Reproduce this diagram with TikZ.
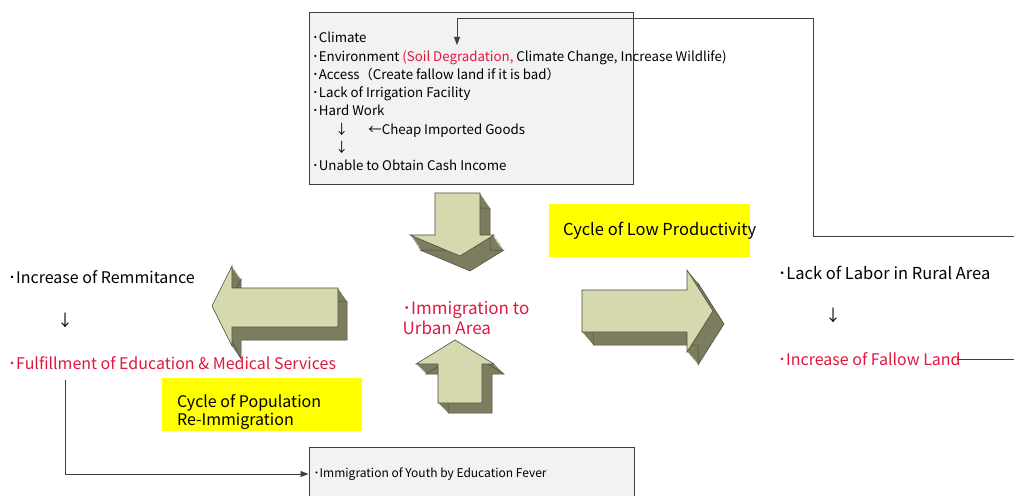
\documentclass[tikz,border=0pt]{standalone}
\usepackage{fontspec}
\setmainfont{Noto Sans CJK JP}
\usepackage{xcolor}
\definecolor{ink}{HTML}{E3173E}
\definecolor{marker}{HTML}{FFFF00}
\definecolor{boxfill}{HTML}{F2F2F2}
\definecolor{boxline}{HTML}{404040}
\definecolor{facecol}{HTML}{D6D9AE}
\definecolor{sidecol}{HTML}{7C7C5E}
\definecolor{edgecol}{HTML}{4A4A3A}
\usepackage{tikz}
\usetikzlibrary{arrows.meta,positioning}

% extruded block arrow: depth vector (#1,#2), front outline #3
\newcommand{\solidarrow}[3]{%
  \foreach \k in {1,...,16}
    \fill[arrowside, shift={({#1*\k/16},{#2*\k/16})}] #3 -- cycle;
  \draw[arrowedge, shift={(#1,#2)}] #3 -- cycle;
  \filldraw[arrowface] #3 -- cycle;
}
% bullet dot
\newcommand{\bul}{･}

\begin{document}
\begin{tikzpicture}[
  x=1pt, y=-1pt,
  >={Triangle[length=8pt,width=6pt]},
  note/.style={inner sep=0pt, align=left, font=\fontsize{16}{18}\selectfont},
  small/.style={inner sep=0pt, align=left, font=\fontsize{12}{18}\selectfont},
  frame/.style={draw=boxline, fill=boxfill, line width=1pt, inner sep=0pt},
  cyclebox/.style={fill=marker, inner sep=0pt},
  link/.style={draw=boxline, line width=0.9pt},
  arrowside/.style={fill=sidecol},
  arrowedge/.style={draw=edgecol, line width=0.5pt},
  arrowface/.style={fill=facecol, draw=edgecol, line width=0.6pt},
]
\useasboundingbox[fill=white] (0,0) rectangle (1014,495);

% Factor list on top
\node[frame, minimum width=324pt, minimum height=171pt] (factors) at (471,98.5) {};
\node[small, anchor=north west, font=\fontsize{13.3}{18.3}\selectfont] (factorlist) at (312,32) {%
  \bul Climate\\
  \bul Environment \textcolor{ink}{(Soil Degradation,} Climate Change, Increase Wildlife)\\
  \bul Access（Create fallow land if it is bad）\\
  \bul Lack of Irrigation Facility\\
  \bul Hard Work\\
  \hspace*{23pt}↓\hspace{20pt}←Cheap Imported Goods\\
  \hspace*{23pt}↓\\
  \bul Unable to Obtain Cash Income};

% Bottom box
\node[frame, minimum width=325pt, minimum height=54pt] (youth) at (471.5,474) {};
\node[small, anchor=west] (youthtext) at ([xshift=5pt]youth.west) {\bul Immigration of Youth by Education Fever};

% Cycle markers
\node[cyclebox, minimum width=201pt, minimum height=53pt] (lowbox) at (649.5,230.5) {};
\node[note, anchor=west, font=\fontsize{16.5}{18}\selectfont] (lowtext) at ([xshift=14pt]lowbox.west) {Cycle of Low Productivity};
\node[cyclebox, minimum width=200pt, minimum height=53pt] (popbox) at (262,404.5) {};
\node[note, anchor=west] (poptext) at ([xshift=15pt,yshift=-8pt]popbox.west) {Cycle of Population\\Re-Immigration};

% Block arrows around the centre
\solidarrow{10}{15}{(435,193) -- (480,193) -- (480,235) -- (494,235) -- (460,256) -- (410,235) -- (435,235)}
\solidarrow{9}{13}{(212,306) -- (232,266) -- (232,288) -- (338,288) -- (338,327) -- (232,327) -- (232,346)}
\solidarrow{11}{13}{(582,290) -- (687,290) -- (687,270) -- (713,311) -- (687,352) -- (687,332) -- (582,332)}
\solidarrow{10}{10}{(455,340) -- (494,364) -- (482,364) -- (482,403) -- (438,403) -- (438,364) -- (416,364)}

% Centre
\node[note, text=ink, font=\fontsize{17}{20}\selectfont] (urban) at (466,318) {\bul Immigration to\\Urban Area};

% Left side
\node[note, anchor=west] (remit) at (8,277) {\bul Increase of Remmitance};
\node[note] (remitdown) at (65,320) {↓};
\node[note, anchor=west, text=ink] (fulfil) at (8,363) {\bul Fulfillment of Education \& Medical Services};

% Right side
\node[note, anchor=west, font=\fontsize{16.5}{18}\selectfont] (labor) at (778,273) {\bul Lack of Labor in Rural Area};
\node[note] (labordown) at (833,315) {↓};
\node[note, anchor=west, text=ink] (fallow) at (778,359) {\bul Increase of Fallow Land};

% Connectors
\coordinate (fallowout) at (1014,361);
\coordinate (loopin) at (1014,236);
\coordinate (loopturn) at (813,18);
\coordinate (envmark) at (457,45);
\coordinate (fulfilfoot) at (65,380);

\draw[link] ([xshift=-4pt]fallow.east) -- (fallow.east -| fallowout);
\draw[link, ->] (loopin) -| (loopturn) -| (envmark);
\draw[link, ->] (fulfilfoot) |- (youth.west);
\end{tikzpicture}
\end{document}
